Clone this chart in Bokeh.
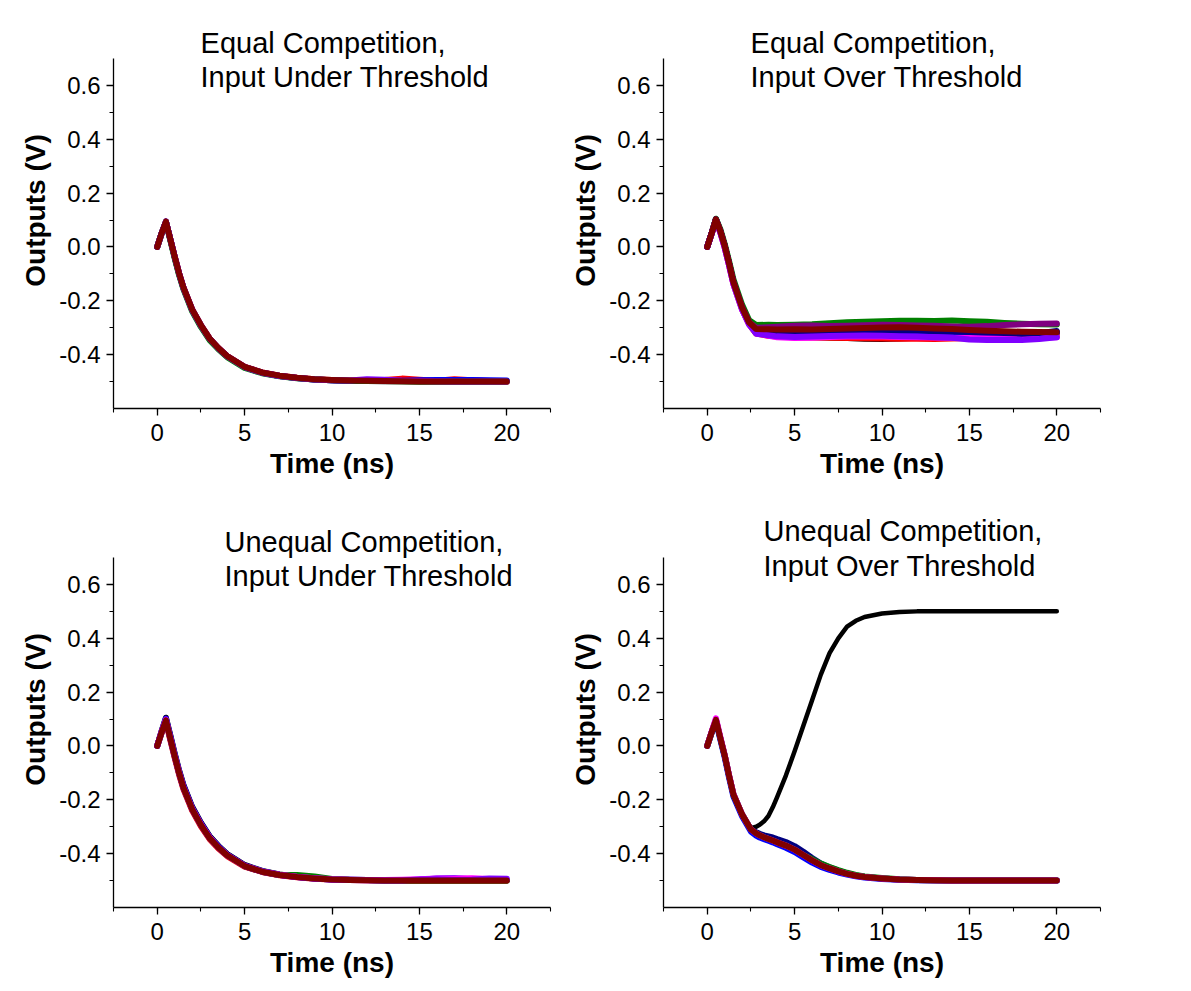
from bokeh.plotting import figure
from bokeh.layouts import column, row
from bokeh.models import Range1d, SingleIntervalTicker, NumeralTickFormatter, Label
from bokeh.embed import file_html
from bokeh.resources import INLINE

FONT = "Liberation Sans"

# ---------------- data ----------------
x_ticks_interval = 5
y_ticks_interval = 0.2
y_axis_min, y_axis_max = -0.6, 0.7

titles = [
    ("Equal Competition,", "Input Under Threshold"),
    ("Equal Competition,", "Input Over Threshold"),
    ("Unequal Competition,", "Input Under Threshold"),
    ("Unequal Competition,", "Input Over Threshold"),
]

# Panel 1: equal competition, under threshold
t1 = [0, 0.25, 0.5, 0.75, 1, 1.25, 1.5, 2, 2.5, 3, 3.5, 4, 5, 6, 7, 8, 9, 10, 11, 12, 13, 14, 15, 16, 17, 18, 19, 20]
p1_black = [0, 0.05, 0.094, 0.028, -0.038, -0.1, -0.153, -0.235, -0.293, -0.342, -0.377, -0.406, -0.446, -0.467, -0.479, -0.487, -0.492, -0.495, -0.497, -0.498, -0.499, -0.499, -0.5, -0.5, -0.5, -0.5, -0.5, -0.5]
p1_green = [0, 0.05, 0.093, 0.025, -0.042, -0.104, -0.157, -0.239, -0.297, -0.346, -0.38, -0.409, -0.449, -0.469, -0.48, -0.488, -0.492, -0.495, -0.497, -0.498, -0.498, -0.499, -0.5, -0.5, -0.5, -0.5, -0.5, -0.5]
p1_blue = [0, 0.05, 0.094, 0.03, -0.036, -0.098, -0.151, -0.233, -0.291, -0.341, -0.376, -0.406, -0.446, -0.467, -0.479, -0.487, -0.492, -0.495, -0.498, -0.498, -0.497, -0.497, -0.495, -0.494, -0.494, -0.494, -0.495, -0.496]
p1_violet = [0, 0.05, 0.094, 0.03, -0.036, -0.098, -0.152, -0.234, -0.292, -0.341, -0.376, -0.406, -0.446, -0.467, -0.479, -0.487, -0.492, -0.495, -0.496, -0.491, -0.493, -0.497, -0.498, -0.499, -0.5, -0.5, -0.5, -0.5]
p1_red = [0, 0.05, 0.094, 0.03, -0.035, -0.097, -0.15, -0.232, -0.29, -0.34, -0.375, -0.405, -0.445, -0.466, -0.478, -0.486, -0.491, -0.494, -0.496, -0.497, -0.494, -0.489, -0.493, -0.497, -0.491, -0.495, -0.498, -0.5]
p1_wine = [0, 0.05, 0.094, 0.03, -0.035, -0.097, -0.15, -0.232, -0.29, -0.34, -0.375, -0.405, -0.445, -0.466, -0.478, -0.486, -0.491, -0.494, -0.496, -0.497, -0.498, -0.499, -0.5, -0.5, -0.5, -0.5, -0.5, -0.5]

# Panel 2: equal competition, over threshold
t2 = [0, 0.25, 0.5, 0.75, 1, 1.25, 1.5, 2, 2.4, 2.8, 3.5, 4, 5, 6, 7, 8, 9, 10, 11, 12, 13, 14, 15, 16, 17, 18, 19, 20]
p2_rise_hi = [0, 0.05, 0.105, 0.066, 0.012, -0.052, -0.12, -0.215, -0.272]
p2_rise = [0, 0.05, 0.103, 0.06, 0.005, -0.06, -0.13, -0.225, -0.28]
p2_rise_lo = [0, 0.048, 0.1, 0.054, -0.002, -0.068, -0.138, -0.233, -0.288]
p2_black = [-0.315, -0.322, -0.326, -0.33, -0.334, -0.336, -0.338, -0.341, -0.342, -0.34, -0.337, -0.334, -0.33, -0.327, -0.325, -0.323, -0.321, -0.32, -0.32]
p2_red = [-0.322, -0.33, -0.333, -0.335, -0.336, -0.337, -0.338, -0.339, -0.34, -0.341, -0.341, -0.342, -0.34, -0.338, -0.336, -0.334, -0.333, -0.332, -0.33]
p2_blue = [-0.32, -0.322, -0.323, -0.322, -0.32, -0.318, -0.317, -0.316, -0.316, -0.318, -0.32, -0.322, -0.323, -0.325, -0.327, -0.326, -0.325, -0.322, -0.318]
p2_green = [-0.29, -0.289, -0.29, -0.289, -0.287, -0.283, -0.28, -0.278, -0.276, -0.274, -0.274, -0.275, -0.273, -0.276, -0.278, -0.282, -0.285, -0.287, -0.288]
p2_magenta = [-0.318, -0.33, -0.335, -0.338, -0.337, -0.334, -0.333, -0.332, -0.333, -0.334, -0.335, -0.336, -0.337, -0.338, -0.339, -0.338, -0.337, -0.336, -0.335]
p2_navy = [-0.315, -0.316, -0.318, -0.318, -0.317, -0.315, -0.314, -0.312, -0.31, -0.309, -0.31, -0.312, -0.314, -0.316, -0.318, -0.32, -0.322, -0.32, -0.312]
p2_violet = [-0.322, -0.328, -0.332, -0.334, -0.333, -0.331, -0.33, -0.329, -0.33, -0.332, -0.333, -0.335, -0.337, -0.344, -0.346, -0.345, -0.346, -0.342, -0.335]
p2_purple = [-0.3, -0.298, -0.296, -0.293, -0.292, -0.294, -0.293, -0.291, -0.289, -0.29, -0.292, -0.293, -0.295, -0.296, -0.294, -0.29, -0.287, -0.285, -0.284]
p2_wine = [-0.305, -0.306, -0.307, -0.306, -0.307, -0.305, -0.303, -0.301, -0.299, -0.298, -0.3, -0.303, -0.305, -0.308, -0.311, -0.313, -0.315, -0.316, -0.317]

# Panel 3: unequal competition, under threshold
t3 = [0, 0.25, 0.5, 0.75, 1, 1.25, 1.5, 2, 2.5, 3, 3.5, 4, 5, 6, 7, 8, 9, 10, 11, 12, 13, 14, 15, 16, 17, 18, 19, 20]
p3_black = [0, 0.055, 0.105, 0.04, -0.028, -0.09, -0.144, -0.226, -0.285, -0.335, -0.371, -0.401, -0.442, -0.464, -0.477, -0.486, -0.491, -0.495, -0.497, -0.498, -0.499, -0.5, -0.5, -0.5, -0.5, -0.5, -0.5, -0.5]
p3_red = [0, 0.048, 0.09, 0.022, -0.044, -0.106, -0.16, -0.24, -0.298, -0.346, -0.381, -0.409, -0.448, -0.468, -0.48, -0.488, -0.493, -0.496, -0.498, -0.499, -0.5, -0.5, -0.5, -0.5, -0.5, -0.5, -0.5, -0.5]
p3_blue = [0, 0.053, 0.102, 0.036, -0.031, -0.093, -0.147, -0.229, -0.288, -0.338, -0.373, -0.403, -0.444, -0.465, -0.478, -0.487, -0.492, -0.496, -0.497, -0.498, -0.499, -0.498, -0.497, -0.492, -0.491, -0.495, -0.497, -0.498]
p3_green = [0, 0.05, 0.095, 0.028, -0.038, -0.1, -0.155, -0.235, -0.293, -0.342, -0.377, -0.406, -0.446, -0.467, -0.479, -0.479, -0.485, -0.494, -0.497, -0.498, -0.5, -0.5, -0.5, -0.5, -0.5, -0.5, -0.5, -0.5]
p3_magenta = [0, 0.052, 0.098, 0.03, -0.036, -0.098, -0.153, -0.233, -0.291, -0.34, -0.376, -0.405, -0.445, -0.466, -0.478, -0.486, -0.491, -0.495, -0.497, -0.498, -0.498, -0.497, -0.495, -0.492, -0.492, -0.491, -0.494, -0.496]
p3_violet = [0, 0.05, 0.095, 0.028, -0.038, -0.1, -0.155, -0.235, -0.293, -0.342, -0.377, -0.406, -0.446, -0.467, -0.479, -0.487, -0.492, -0.496, -0.498, -0.499, -0.5, -0.5, -0.496, -0.495, -0.498, -0.497, -0.492, -0.493]
p3_wine = [0, 0.05, 0.095, 0.028, -0.038, -0.1, -0.155, -0.235, -0.293, -0.342, -0.377, -0.406, -0.446, -0.467, -0.479, -0.487, -0.492, -0.496, -0.498, -0.499, -0.5, -0.5, -0.5, -0.5, -0.5, -0.5, -0.5, -0.5]

# Panel 4: unequal competition, over threshold
t4 = [0, 0.25, 0.5, 0.75, 1, 1.25, 1.5, 2, 2.5, 2.8, 3.0, 3.25, 3.5, 3.75, 4, 4.5, 5, 5.5, 6, 6.5, 7, 7.5, 8, 8.5, 9, 10, 11, 12, 14, 16, 18, 20]
p4_black = [0, 0.05, 0.097, 0.03, -0.035, -0.11, -0.18, -0.255, -0.305, -0.3, -0.293, -0.28, -0.26, -0.228, -0.19, -0.11, -0.02, 0.075, 0.17, 0.265, 0.345, 0.4, 0.443, 0.465, 0.479, 0.492, 0.498, 0.5, 0.5, 0.5, 0.5, 0.5]
p4_navy = [0, 0.05, 0.097, 0.03, -0.035, -0.11, -0.18, -0.255, -0.31, -0.32, -0.326, -0.332, -0.336, -0.34, -0.346, -0.357, -0.372, -0.393, -0.416, -0.437, -0.451, -0.463, -0.473, -0.481, -0.486, -0.492, -0.496, -0.498, -0.5, -0.5, -0.5, -0.5]
p4_blue = [0, 0.048, 0.093, 0.024, -0.042, -0.118, -0.188, -0.262, -0.318, -0.333, -0.34, -0.346, -0.352, -0.358, -0.365, -0.378, -0.394, -0.414, -0.433, -0.449, -0.46, -0.47, -0.478, -0.484, -0.489, -0.494, -0.497, -0.499, -0.5, -0.5, -0.5, -0.5]
p4_green = [0, 0.05, 0.097, 0.03, -0.035, -0.11, -0.18, -0.255, -0.31, -0.325, -0.332, -0.339, -0.345, -0.351, -0.358, -0.37, -0.385, -0.405, -0.42, -0.437, -0.45, -0.461, -0.471, -0.479, -0.485, -0.49, -0.495, -0.498, -0.5, -0.5, -0.5, -0.5]
p4_magenta = [0, 0.052, 0.103, 0.034, -0.033, -0.108, -0.178, -0.255, -0.31, -0.325, -0.332, -0.339, -0.345, -0.351, -0.358, -0.37, -0.385, -0.405, -0.425, -0.443, -0.455, -0.466, -0.475, -0.482, -0.487, -0.492, -0.496, -0.498, -0.5, -0.5, -0.5, -0.5]
p4_wine = [0, 0.05, 0.097, 0.03, -0.035, -0.11, -0.18, -0.255, -0.31, -0.325, -0.332, -0.339, -0.345, -0.351, -0.358, -0.37, -0.385, -0.405, -0.425, -0.443, -0.455, -0.466, -0.475, -0.482, -0.487, -0.492, -0.496, -0.498, -0.5, -0.5, -0.5, -0.5]

COLORS = {
    "black": "#000000", "red": "#FF0000", "blue": "#0000FF", "green": "#008000",
    "magenta": "#FF00FF", "navy": "#000080", "violet": "#8000FF",
    "purple": "#800080", "wine": "#800000",
}

# title placement (data coords: x left edge, y of each line)
title_pos = [(2.48, 0.759, 0.633), (2.48, 0.759, 0.633), (3.85, 0.759, 0.633), (3.22, 0.80, 0.67)]

FRAME_H = 396
Y_TOP = 0.871  # range extends above the drawn axis to make room for the titles


def make_fig(width, left, top, bottom):
    p = figure(width=width, height=top + FRAME_H + bottom, output_backend="svg", toolbar_location=None,
               x_range=Range1d(-2.5, 22.5), y_range=Range1d(y_axis_min, Y_TOP),
               min_border_left=left, min_border_right=8, min_border_top=top,
               min_border_bottom=bottom)
    p.outline_line_color = None
    p.xgrid.visible = False
    p.ygrid.visible = False
    p.background_fill_color = "white"
    p.border_fill_color = "white"
    p.xaxis.ticker = SingleIntervalTicker(interval=x_ticks_interval, num_minor_ticks=2)
    p.yaxis.ticker = SingleIntervalTicker(interval=y_ticks_interval, num_minor_ticks=2)
    p.yaxis.formatter = NumeralTickFormatter(format="0.0")
    p.yaxis.bounds = (y_axis_min, y_axis_max)
    p.xaxis.axis_label = "Time (ns)"
    p.yaxis.axis_label = "Outputs (V)"
    for ax in (p.xaxis[0], p.yaxis[0]):
        ax.axis_line_color = "black"
        ax.axis_line_width = 1.3
        ax.major_tick_line_color = "black"
        ax.minor_tick_line_color = "black"
        ax.major_tick_line_width = 1.3
        ax.minor_tick_line_width = 1.1
        ax.major_tick_in = 0
        ax.major_tick_out = 7
        ax.minor_tick_in = 0
        ax.minor_tick_out = 4
        ax.major_label_text_font = FONT
        ax.major_label_text_font_size = "24px"
        ax.major_label_text_color = "black"
        ax.axis_label_text_font = FONT
        ax.axis_label_text_font_size = "28px"
        ax.axis_label_text_font_style = "bold"
        ax.axis_label_text_color = "black"
    p.xaxis.major_label_standoff = 8
    p.yaxis.major_label_standoff = 6
    p.xaxis.axis_label_standoff = 4
    p.yaxis.axis_label_standoff = 5
    return p


def add_title(p, idx):
    x, y1, y2 = title_pos[idx]
    for txt, yy in ((titles[idx][0], y1), (titles[idx][1], y2)):
        p.add_layout(Label(x=x, y=yy, text=txt, text_font=FONT, text_font_size="29px",
                           text_color="black", text_align="left", text_baseline="middle"))


def draw(p, t, series):
    for name, vals, w in series:
        p.line(t, vals, line_color=COLORS[name], line_width=w, line_join="round", line_cap="round")


p1 = make_fig(558, 113, 12, 99)
draw(p1, t1, [("black", p1_black, 6), ("red", p1_red, 6), ("blue", p1_blue, 6), ("green", p1_green, 6),
              ("violet", p1_violet, 6), ("wine", p1_wine, 6)])
add_title(p1, 0)

p2 = make_fig(550, 105, 12, 99)
draw(p2, t2, [("black", p2_rise + p2_black, 6), ("red", p2_rise_lo + p2_red, 6), ("blue", p2_rise + p2_blue, 6),
              ("green", p2_rise_hi + p2_green, 6), ("magenta", p2_rise_lo + p2_magenta, 6),
              ("navy", p2_rise + p2_navy, 6), ("violet", p2_rise_lo + p2_violet, 6),
              ("purple", p2_rise + p2_purple, 6), ("wine", p2_rise + p2_wine, 6)])
add_title(p2, 1)

p3 = make_fig(558, 113, 4, 75)
draw(p3, t3, [("black", p3_black, 6), ("red", p3_red, 6), ("blue", p3_blue, 6), ("green", p3_green, 6),
              ("magenta", p3_magenta, 6), ("violet", p3_violet, 6), ("wine", p3_wine, 6)])
add_title(p3, 2)

p4 = make_fig(550, 105, 4, 75)
draw(p4, t4, [("black", p4_black, 4.5), ("blue", p4_blue, 6), ("navy", p4_navy, 6), ("green", p4_green, 6),
              ("magenta", p4_magenta, 6), ("wine", p4_wine, 6)])
add_title(p4, 3)

layout = column(row(p1, p2), row(p3, p4))
open("out.html", "w").write(file_html(layout, INLINE))
